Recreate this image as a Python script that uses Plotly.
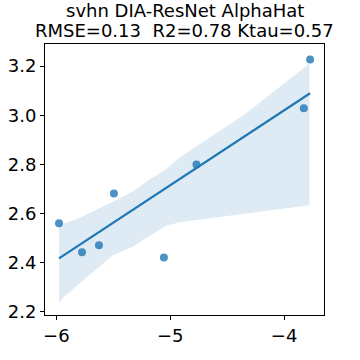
import numpy as np
import plotly.graph_objects as go

# points
x_vals = [-5.977, -5.775, -5.626, -5.495, -5.056, -4.770, -3.827, -3.772]
y_vals = [2.560, 2.442, 2.471, 2.682, 2.421, 2.800, 3.028, 3.227]

# confidence band (bootstrap look), read at a few x positions
band_x = [-5.977, -5.825, -5.504, -5.330, -5.180, -5.035, -4.918, -4.333, -3.778]
band_lo = [2.241, 2.305, 2.430, 2.465, 2.510, 2.550, 2.564, 2.600, 2.634]
band_hi = [2.553, 2.577, 2.648, 2.690, 2.740, 2.780, 2.828, 3.008, 3.211]

title_lines = ['svhn DIA-ResNet AlphaHat', 'RMSE=0.13  R2=0.78 Ktau=0.57']

slope, icpt = np.polyfit(x_vals, y_vals, 1)
fit_x = np.array([min(x_vals), max(x_vals)])
fit_y = slope * fit_x + icpt

fig = go.Figure()
fig.add_trace(go.Scatter(x=band_x, y=band_lo, mode='lines', line=dict(width=0),
                         showlegend=False, hoverinfo='skip'))
fig.add_trace(go.Scatter(x=band_x, y=band_hi, mode='lines', line=dict(width=0),
                         fill='tonexty', fillcolor='rgba(31,119,180,0.15)',
                         showlegend=False, hoverinfo='skip'))
fig.add_trace(go.Scatter(x=fit_x, y=fit_y, mode='lines',
                         line=dict(color='#1f77b4', width=2.2), showlegend=False))
fig.add_trace(go.Scatter(x=x_vals, y=y_vals, mode='markers',
                         marker=dict(color='rgba(31,119,180,0.8)', size=8),
                         showlegend=False))

axis_style = dict(showline=True, linecolor='black', linewidth=1, mirror=True,
                  ticks='outside', ticklen=4, tickcolor='black',
                  showgrid=False, zeroline=False, automargin=False,
                  tickfont=dict(family='DejaVu Sans', size=18, color='black'))

# title as two centred lines above the frame
for txt, ypos in zip(title_lines, [1.122, 1.050]):
    fig.add_annotation(text=txt, x=0.5, y=ypos, xref='paper', yref='paper',
                       xanchor='center', yanchor='middle', showarrow=False,
                       font=dict(family='DejaVu Sans', size=18, color='black'))

fig.update_layout(
    width=360, height=360,
    margin=dict(l=45, r=36, t=44, b=45),
    plot_bgcolor='white',
    paper_bgcolor='white',
    xaxis=dict(range=[-6.10, -3.65], tickvals=[-6, -5, -4], **axis_style),
    yaxis=dict(range=[2.187, 3.29], tickvals=[2.2, 2.4, 2.6, 2.8, 3.0, 3.2],
               tickformat='.1f', **axis_style),
)

# drop the browser's default body margin so the 360px figure sits at 0,0
fig.write_html("out.html", config={'displayModeBar': False},
               post_script="document.body.style.margin='0';")
